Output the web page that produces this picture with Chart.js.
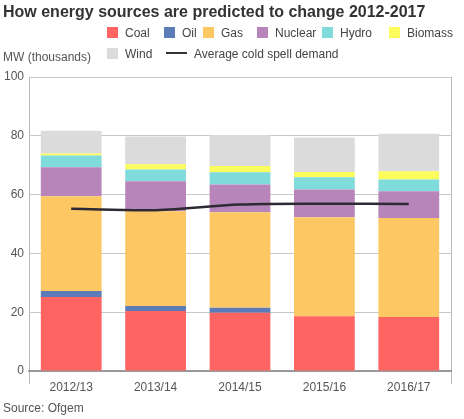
<!DOCTYPE html>
<html>
<head>
<meta charset="utf-8">
<script src="https://cdn.jsdelivr.net/npm/chart.js@4/dist/chart.umd.min.js"></script>
<style>
  html, body { margin: 0; padding: 0; background: #fff; }
  body { width: 464px; height: 419px; position: relative; overflow: hidden;
         font-family: "Liberation Sans", Arial, Helvetica, sans-serif; color: #444; }
  #wrap { position: absolute; left: 0; top: 0; width: 464px; height: 419px; }
  .title { position: absolute; left: 3px; top: 3px; font-size: 16px; font-weight: bold; color: #333; white-space: nowrap; }
  .unit { position: absolute; left: 3px; top: 50px; font-size: 12px; color: #555; white-space: nowrap; }
  .source { position: absolute; left: 3px; top: 401px; font-size: 12px; color: #555; white-space: nowrap; }
  .lg { position: absolute; font-size: 12px; color: #444; white-space: nowrap; line-height: 14px; }
  .lg i { display: inline-block; width: 11px; height: 11px; vertical-align: -1px; margin-right: 7px; }
  .lg b { display: inline-block; width: 21px; height: 2px; background: #333; vertical-align: 4px; margin-right: 7px; }
</style>
</head>
<body>
<div id="wrap"><canvas id="chart" width="464" height="419"></canvas></div>
<div class="title">How energy sources are predicted to change 2012-2017</div>
<div class="unit">MW (thousands)</div>
<div class="source">Source: Ofgem</div>
<div id="legend"></div>
<script>
const years = ['2012/13', '2013/14', '2014/15', '2015/16', '2016/17'];

const coal    = [25.2, 20.4, 19.8, 18.6, 18.4];
const oil     = [2.0, 1.7, 1.7, 0, 0];
const gas     = [32.2, 32.2, 32.5, 33.7, 33.6];
const nuclear = [9.9, 10.2, 9.4, 9.4, 9.1];
const hydro   = [4.0, 4.0, 4.2, 4.2, 4.0];
const biomass = [0.7, 1.8, 2.1, 1.8, 2.8];
const wind    = [7.7, 9.5, 10.6, 11.7, 12.8];
const demand  = [55.2, 54.7, 56.6, 56.9, 56.8];

const yTicks = [0, 20, 40, 60, 80, 100];

const sources = [
  { label: 'Coal', data: coal, color: '#fe6462' },
  { label: 'Oil', data: oil, color: '#5b7cb7' },
  { label: 'Gas', data: gas, color: '#fdc864' },
  { label: 'Nuclear', data: nuclear, color: '#b885ba' },
  { label: 'Hydro', data: hydro, color: '#80dcdb' },
  { label: 'Biomass', data: biomass, color: '#fcfc5c' },
  { label: 'Wind', data: wind, color: '#dbdbdb' },
];
const demandLabel = 'Average cold spell demand';

// legend positions (left, top)
const legendPos = [[107, 26], [164, 26], [203, 26], [257, 26], [322, 26], [389, 26], [107, 47]];
const legend = document.getElementById('legend');
sources.forEach((s, i) => {
  const d = document.createElement('div');
  d.className = 'lg';
  d.style.left = legendPos[i][0] + 'px';
  d.style.top = legendPos[i][1] + 'px';
  d.innerHTML = '<i style="background:' + s.color + '"></i>' + s.label;
  legend.appendChild(d);
});
const dl = document.createElement('div');
dl.className = 'lg';
dl.style.left = '166px';
dl.style.top = '47px';
dl.innerHTML = '<b></b>' + demandLabel;
legend.appendChild(dl);

const datasets = sources.map(s => ({
  type: 'bar',
  label: s.label,
  data: s.data,
  backgroundColor: s.color,
  borderWidth: 0,
  stack: 'supply',
  categoryPercentage: 1,
  barPercentage: 0.72,
  order: 2,
}));
datasets.push({
  type: 'line',
  label: demandLabel,
  data: demand,
  borderColor: '#2e2a33',
  borderWidth: 2.5,
  pointRadius: 0,
  tension: 0.35,
  stack: 'demand',
  order: 0,
});

new Chart(document.getElementById('chart').getContext('2d'), {
  type: 'bar',
  data: { labels: years, datasets },
  options: {
    responsive: false,
    animation: false,
    layout: { padding: { left: 0, right: 13, top: 77, bottom: 28 } },
    plugins: { legend: { display: false }, tooltip: { enabled: false } },
    scales: {
      x: {
        stacked: true,
        border: { color: '#999', width: 2 },
        grid: {
          offset: true,
          drawOnChartArea: true,
          tickLength: 13,
          lineWidth: 1,
          color: ctx => (ctx.type === 'scale' || ctx.index === 0) ? '#bbb' : 'rgba(0,0,0,0)',
        },
        ticks: { color: '#555', padding: -4, font: { family: 'Liberation Sans', size: 12 } },
        afterFit: scale => { scale.height = 20; },
      },
      y: {
        stacked: true,
        min: 0,
        max: 100,
        afterBuildTicks: scale => { scale.ticks = yTicks.map(v => ({ value: v })); },
        border: { display: false },
        grid: { color: '#c8c8c8', lineWidth: 1, drawTicks: false },
        ticks: { color: '#555', padding: 5, font: { family: 'Liberation Sans', size: 12 } },
        afterFit: scale => { scale.width = 29; },
      },
    },
  },
});
</script>
</body>
</html>
